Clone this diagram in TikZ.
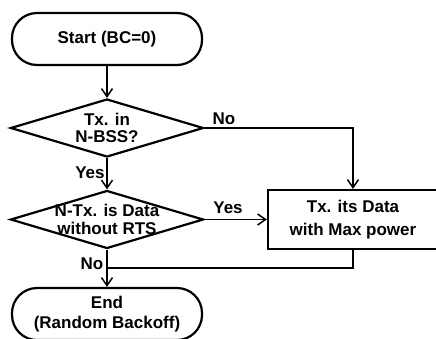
\documentclass[tikz,border=0pt]{standalone}
\usepackage{fontspec}
\setmainfont{Liberation Sans}
\usetikzlibrary{shapes.geometric,arrows.meta}
\begin{document}
\begin{tikzpicture}[x=1pt,y=-1pt,
 txt/.style={font=\bfseries\fontsize{17}{#1}\selectfont},
 txt/.default=18,
 term/.style={draw,line width=2.2pt,rectangle,rounded corners=25pt,minimum width=190pt,minimum height=52pt,align=center,inner sep=0pt},
 dec/.style={draw,line width=2.2pt,diamond,minimum width=193pt,minimum height=58pt,inner sep=0pt},
 proc/.style={draw,line width=2.2pt,rectangle,minimum width=170pt,minimum height=59pt,align=center,inner sep=0pt},
 conn/.style={line width=1.5pt},
 arr/.style={conn,-{Straight Barb[length=8pt,width=11pt]}},
 lab/.style={txt,inner sep=0pt}
]
\useasboundingbox (0,0) rectangle (436,338);
\node[term,txt] (start) at (107,39) {Start (BC=0)};
\node[dec,label={[align=center,txt=17]center:Tx. in\\N-BSS?}] (d1) at (107,128) {};
\node[dec,label={[align=center,txt=18]center:N-Tx. is Data\\without RTS}] (d2) at (107,219.5) {};
\node[proc,txt=23] (box) at (353,219.5) {Tx. its Data\\with Max power};
\node[term,txt=20] (end) at (107,314) {End\\(Random Backoff)};
\node[lab] (no1) at (224,119) {No};
\node[lab] (yes1) at (90,173) {Yes};
\node[lab] (yes2) at (228,208) {Yes};
\node[lab] (no2) at (92,264) {No};
\coordinate (j) at (107,268);
\draw[arr] (start) -- (d1);
\draw[arr] (d1.east) -| (box.north);
\draw[arr] (d1) -- (d2);
\draw[arr] (d2) -- (box);
\draw[conn] (box.south) |- (j);
\draw[arr] (d2) -- (end);
\end{tikzpicture}
\end{document}
